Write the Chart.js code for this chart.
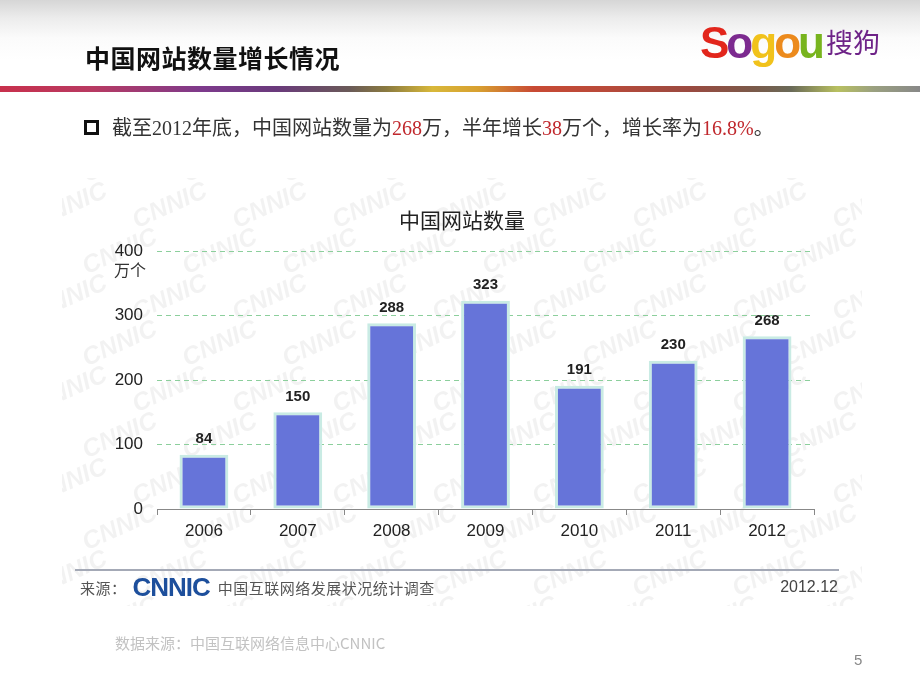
<!DOCTYPE html>
<html>
<head>
<meta charset="utf-8">
<script src="https://cdn.jsdelivr.net/npm/chart.js@4/dist/chart.umd.min.js"></script>
<style>
  html,body{margin:0;padding:0;background:#fff;}
  #page{position:relative;width:920px;height:690px;overflow:hidden;background:#fff;font-family:"Noto Sans CJK SC","Liberation Sans",sans-serif;}
  #hdr{position:absolute;left:0;top:0;width:920px;height:60px;background:linear-gradient(to bottom,#d6d6d6 0px,#ececec 18px,#fbfbfb 38px,#ffffff 60px);}
  #stripe{position:absolute;left:0;top:86px;width:920px;height:6px;
    background:linear-gradient(to right,#c8304c 0%,#b83a62 10%,#7d3a8c 22%,#6a3a7c 30%,#6a5a58 38%,#8a7a40 42%,#d8b83a 47%,#d8a030 52%,#c84a34 58%,#b84a3a 66%,#9a4a40 75%,#7a5a4a 82%,#6a6a58 86%,#b8c060 91%,#9aa080 95%,#888 100%);}
  #title{position:absolute;left:85px;top:40px;font-size:25px;font-weight:bold;color:#111;letter-spacing:0.5px;line-height:34px;white-space:nowrap;}
  #logo{position:absolute;left:700px;top:12px;white-space:nowrap;line-height:60px;}
  #logo .l{font-family:"Liberation Sans",Arial,sans-serif;font-weight:bold;font-size:44px;letter-spacing:-3px;}
  #logo .cn{font-family:"Noto Sans CJK SC",sans-serif;font-size:27px;color:#6e2388;margin-left:4px;vertical-align:5px;}
  #bullet{position:absolute;left:84px;top:120px;width:9px;height:9px;border:3px solid #111;}
  #line1{position:absolute;left:112px;top:114px;font-size:20px;line-height:28px;color:#333;white-space:nowrap;font-family:"Liberation Serif","Noto Sans CJK SC",serif;}
  #line1 .r{color:#c0282d;}
  #srcline{position:absolute;left:75px;top:569px;width:764px;height:2px;background:#a4a9b6;}
  #src{position:absolute;left:80px;top:575px;font-size:15px;line-height:24px;color:#555;white-space:nowrap;letter-spacing:0.5px;}
  #src .cnnic{font-family:"Liberation Sans",Arial,sans-serif;font-weight:bold;font-size:26px;color:#1d4f9c;letter-spacing:-1px;vertical-align:-2px;margin:0 8px 0 6px;}
  #date{position:absolute;right:82px;top:576px;font-size:16px;line-height:22px;color:#444;font-family:"Liberation Sans",Arial,sans-serif;}
  #foot{position:absolute;left:115px;top:633px;font-size:15px;line-height:20px;color:#c2c2c2;white-space:nowrap;}
  #pnum{position:absolute;left:854px;top:650px;font-size:15px;line-height:20px;color:#888;font-family:"Liberation Sans",Arial,sans-serif;}
  #cwrap{position:absolute;left:0;top:0;width:920px;height:690px;}
</style>
</head>
<body>
<div id="page">
  <div id="hdr"></div>
  <div id="stripe"></div>
  <div id="cwrap"><canvas id="c"></canvas></div>
  <div id="title">中国网站数量增长情况</div>
  <div id="logo"><span class="l" style="color:#e2261c">S</span><span class="l" style="color:#7c2a8f">o</span><span class="l" style="color:#f1c21b">g</span><span class="l" style="color:#ec8a1c">o</span><span class="l" style="color:#78b41e">u</span><span class="cn">搜狗</span></div>
  <div id="bullet"></div>
  <div id="line1">截至2012年底，中国网站数量为<span class="r">268</span>万，半年增长<span class="r">38</span>万个，增长率为<span class="r">16.8%</span>。</div>
  <div id="srcline"></div>
  <div id="src">来源：<span class="cnnic">CNNIC</span>中国互联网络发展状况统计调查</div>
  <div id="date">2012.12</div>
  <div id="foot">数据来源：中国互联网络信息中心CNNIC</div>
  <div id="pnum">5</div>
</div>
<script>
// ---- data ----
const years = ['2006','2007','2008','2009','2010','2011','2012'];
const siteCounts = [84, 150, 288, 323, 191, 230, 268];
const chartTitle = '中国网站数量';
const unitLabel = '万个';
const yMin = 0, yMax = 400, yStep = 100;

const watermark = {
  id: 'watermark',
  beforeDraw(chart) {
    const ctx = chart.ctx;
    ctx.save();
    ctx.beginPath();
    ctx.rect(62, 178, 800, 428);
    ctx.clip();
    ctx.fillStyle = 'rgba(0,0,0,0.05)';
    ctx.font = 'italic bold 25px "Liberation Sans", Arial, sans-serif';
    ctx.textAlign = 'center';
    ctx.textBaseline = 'middle';
    let row = 0;
    for (let y = 160; y < 640; y += 46) {
      const off = (row % 2) * 50;
      for (let x = 20 + off; x < 920; x += 100) {
        ctx.save();
        ctx.translate(x, y);
        ctx.rotate(-0.42);
        ctx.fillText('CNNIC', 0, 0);
        ctx.restore();
      }
      row++;
    }
    ctx.restore();
  }
};

const labelsPlugin = {
  id: 'barLabels',
  afterDatasetsDraw(chart) {
    const ctx = chart.ctx;
    const meta = chart.getDatasetMeta(0);
    ctx.save();
    ctx.fillStyle = '#222';
    ctx.font = 'bold 15px "Liberation Sans", Arial, sans-serif';
    ctx.textAlign = 'center';
    ctx.textBaseline = 'bottom';
    meta.data.forEach((bar, i) => {
      ctx.fillText(String(chart.data.datasets[0].data[i]), bar.x, bar.y - 8);
    });
    ctx.restore();
  },
  afterDraw(chart) {
    const ctx = chart.ctx;
    const ys = chart.scales.y;
    ctx.save();
    ctx.fillStyle = '#222';
    ctx.font = '21px "Noto Sans CJK SC", sans-serif';
    ctx.textAlign = 'center';
    ctx.textBaseline = 'middle';
    ctx.fillText(chartTitle, 462, 220);
    ctx.fillStyle = '#333';
    ctx.font = '16px "Noto Sans CJK SC", sans-serif';
    ctx.textAlign = 'right';
    ctx.fillText(unitLabel, 146, ys.getPixelForValue(yMax) + 19);
    ctx.restore();
  }
};

new Chart(document.getElementById('c'), {
  type: 'bar',
  data: {
    labels: years,
    datasets: [{
      data: siteCounts,
      backgroundColor: '#6674d9',
      borderColor: '#c9ebe4',
      borderWidth: 3,
      borderSkipped: false,
      categoryPercentage: 0.52,
      barPercentage: 1.0
    }]
  },
  options: {
    responsive: true,
    maintainAspectRatio: false,
    animation: false,
    events: [],
    layout: { padding: { left: 100, right: 106, top: 251, bottom: 141 } },
    plugins: { legend: { display: false }, title: { display: false }, tooltip: { enabled: false } },
    scales: {
      x: {
        afterFit: (s) => { s.height = 40; },
        grid: { display: true, drawOnChartArea: false, drawTicks: true, tickLength: 6, color: '#888', offset: true },
        border: { display: true, color: '#888', width: 1 },
        ticks: { color: '#222', padding: 6, font: { size: 17, family: '"Liberation Sans", Arial, sans-serif' } }
      },
      y: {
        min: yMin, max: yMax,
        afterFit: (s) => { s.width = 57; },
        grid: {
          drawTicks: false,
          color: (c) => (c.tick && c.tick.value === 0) ? 'rgba(0,0,0,0)' : '#8ccf9c',
          lineWidth: 1
        },
        border: { display: false, dash: [5, 4] },
        ticks: { stepSize: yStep, color: '#222', padding: 14, font: { size: 17, family: '"Liberation Sans", Arial, sans-serif' } }
      }
    }
  },
  plugins: [watermark, labelsPlugin]
});
</script>
</body>
</html>
